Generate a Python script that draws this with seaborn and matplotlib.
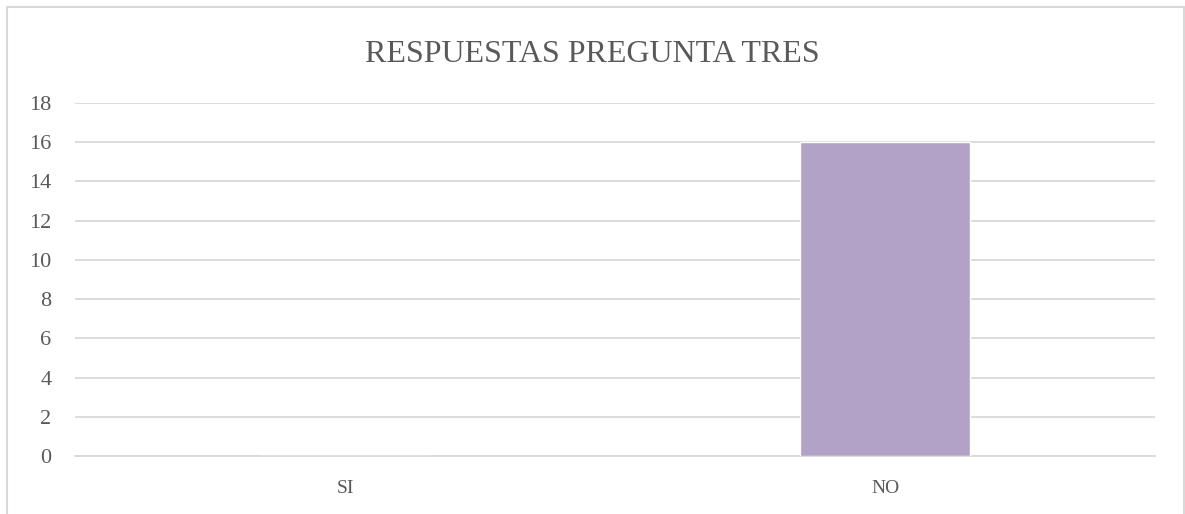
import matplotlib
matplotlib.use("Agg")
import matplotlib.pyplot as plt
import seaborn as sns
import pandas as pd
from matplotlib.lines import Line2D

# chart data
categories = ["SI", "NO"]
responses = [0, 16]
title = "RESPUESTAS PREGUNTA TRES"

W, H = 1185, 514
sns.set_theme(style="white")
plt.rcParams['font.family'] = ['Liberation Serif', 'DejaVu Serif']

df = pd.DataFrame({"respuesta": categories, "cantidad": responses})

fig = plt.figure(figsize=(W / 100, H / 100), dpi=100)
ax = fig.add_axes([75 / W, 1 - 456 / H, 1080 / W, (456 - 103) / H])

sns.barplot(data=df, x="respuesta", y="cantidad", color="#B3A2C7",
            width=0.315, saturation=1, ax=ax, zorder=3)

ax.set_ylim(0, 18)
ax.set_yticks(range(0, 19, 2))
ax.set_xlim(-0.5, 1.5)
ax.yaxis.grid(True, color="#D9D9D9", linewidth=1.3, zorder=0)
ax.set_axisbelow(True)
for s in ["top", "right", "left"]:
    ax.spines[s].set_visible(False)
ax.spines["bottom"].set_color("#D9D9D9")
ax.spines["bottom"].set_linewidth(1.3)
ax.tick_params(axis="y", length=0, labelsize=16, labelcolor="#595959", pad=17)
ax.tick_params(axis="x", length=0, labelsize=14, labelcolor="#595959", pad=17)
ax.set_xlabel("")
ax.set_ylabel("")

fig.text(0.5, 1 - 54 / H, title, ha="center", va="center",
         fontsize=23, color="#595959")

# chart-area border (left, top, right)
bc = "#D9D9D9"
fig.add_artist(Line2D([6.5 / W, 6.5 / W], [0, 1 - 6.5 / H], color=bc, lw=1.5, transform=fig.transFigure))
fig.add_artist(Line2D([6.5 / W, 1183.5 / W], [1 - 6.5 / H, 1 - 6.5 / H], color=bc, lw=1.5, transform=fig.transFigure))
fig.add_artist(Line2D([1183.5 / W, 1183.5 / W], [0, 1 - 6.5 / H], color=bc, lw=1.5, transform=fig.transFigure))

fig.savefig("out.png", dpi=100)
